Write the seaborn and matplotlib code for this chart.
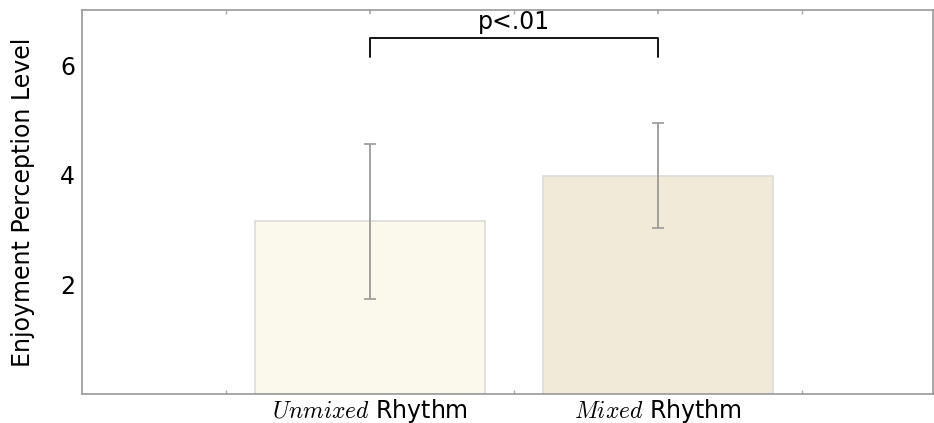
import matplotlib
matplotlib.use("Agg")
import matplotlib.pyplot as plt
import seaborn as sns
import pandas as pd

categories = ["Unmixed", "Mixed"]
tick_labels = ["$Unmixed$ Rhythm", "$Mixed$ Rhythm"]
means = [3.15, 3.98]
errors = [1.41, 0.96]
bar_colors = ["#fbf9ec", "#f2ead8"]
sig_text = "p<.01"
bracket_y = 6.49
bracket_leg = 6.15

sns.set_theme(style="white")
plt.rcParams["font.family"] = ["DejaVu Sans"]
plt.rcParams["mathtext.fontset"] = "cm"
plt.rcParams["text.color"] = "black"
plt.rcParams["axes.labelcolor"] = "black"
plt.rcParams["xtick.color"] = "black"
plt.rcParams["ytick.color"] = "black"

df = pd.DataFrame({"cat": categories, "val": means})

fig = plt.figure(figsize=(9.34, 4.23), dpi=100)
ax = fig.add_axes([0.0878, 0.0686, 0.9112, 0.907])

sns.barplot(data=df, x="cat", y="val", hue="cat", palette=bar_colors,
            saturation=1, errorbar=None, width=0.8, edgecolor="#dcdcd6",
            linewidth=1.2, legend=False, ax=ax)
ax.errorbar(range(len(means)), means, yerr=errors, fmt="none",
            ecolor="#9a9a96", elinewidth=1.3, capsize=4, capthick=1.2)

ax.set_xlim(-1.0, 1.955)
ax.set_ylim(0, 7)
ax.set_yticks([2, 4, 6])
ax.set_xticks(range(len(categories)))
ax.set_xticklabels(tick_labels, fontsize=17)
ax.tick_params(axis="y", labelsize=17, length=0, pad=5)
ax.tick_params(axis="x", length=3, direction="in", color="#aaaaaa", pad=2)
ax.set_xticks([-0.5, 0.5, 1.5], minor=True)
ax.tick_params(axis="x", which="minor", length=3, direction="in", color="#aaaaaa",
               top=True, bottom=True)
ax.tick_params(axis="x", which="major", top=True)
ax.set_xlabel("")
ax.set_ylabel("Enjoyment Perception Level", fontsize=17, labelpad=18)

for s in ax.spines.values():
    s.set_color("#999999")
    s.set_linewidth(1.2)

ax.plot([0, 0, 1, 1], [bracket_leg, bracket_y, bracket_y, bracket_leg],
        color="black", lw=1.3)
ax.text(0.5, bracket_y + 0.07, sig_text, ha="center", va="bottom", fontsize=17)

fig.savefig("out.png", dpi=100)
